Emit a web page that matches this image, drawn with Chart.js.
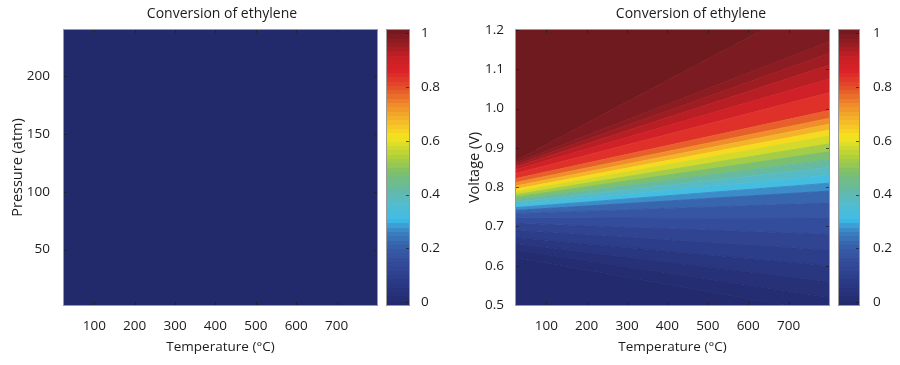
<!DOCTYPE html>
<html>
<head>
<meta charset="utf-8">
<script src="https://cdn.jsdelivr.net/npm/chart.js@4.4.1/dist/chart.umd.min.js"></script>
<style>
  html, body { margin: 0; padding: 0; background: #fff; overflow: hidden; }
  #wrap { position: relative; width: 900px; height: 365px; overflow: hidden; }
  #wrap > div { position: absolute; top: 0; height: 365px; }
</style>
</head>
<body>
<div id="wrap">
  <div style="left:0"><canvas id="leftMap" width="444" height="365"></canvas></div>
  <div style="left:380px"><canvas id="leftBar" width="70" height="365"></canvas></div>
  <div style="left:450px"><canvas id="rightMap" width="482" height="365"></canvas></div>
  <div style="left:832px"><canvas id="rightBar" width="68" height="365"></canvas></div>
</div>
<script>
// ---- data ----
const tempTicks = [100, 200, 300, 400, 500, 600, 700];
const pressureTicks = [50, 100, 150, 200];
const voltTicks = [0.5, 0.6, 0.7, 0.8, 0.9, 1.0, 1.1, 1.2];
const cbTicks = [0, 0.2, 0.4, 0.6, 0.8, 1];

const tempEnds = [25, 800];          // temperature range of both maps
const pressureEnds = [2, 240];       // pressure range of the left map
const voltEnds = [0.5, 1.2];         // voltage range of the right map
const cbEnds = [-0.011, 1.013];      // colour scale limits

// left map: conversion is zero everywhere
const leftConversion = [0, 0];

// right map: contour levels of conversion and the voltage where each
// level crosses T = 25 and T = 800 (the contours are nearly straight)
const levels    = [0.01, 0.025, 0.05, 0.08, 0.11, 0.14, 0.17, 0.20, 0.25, 0.30, 0.35, 0.40, 0.45, 0.50, 0.55, 0.60, 0.65, 0.70, 0.75, 0.80, 0.86, 0.90, 0.93, 0.955, 0.975, 0.99];
const voltAt25  = [0.62, 0.64, 0.655, 0.672, 0.69, 0.708, 0.722, 0.733, 0.741, 0.748, 0.755, 0.762, 0.768, 0.775, 0.781, 0.788, 0.795, 0.803, 0.812, 0.822, 0.835, 0.845, 0.852, 0.857, 0.862, 0.867];
const voltAt800 = [0.48, 0.52, 0.56, 0.60, 0.64, 0.68, 0.72, 0.76, 0.79, 0.81, 0.83, 0.85, 0.87, 0.89, 0.91, 0.93, 0.945, 0.96, 0.975, 0.995, 1.04, 1.075, 1.11, 1.14, 1.17, 1.29];

// ---- colour map (printed jet) ----
const stops = [
  [0.00, '#222a6c'], [0.08, '#2a3985'], [0.16, '#344d9c'], [0.22, '#3862ac'],
  [0.27, '#3a86c4'], [0.31, '#3fbde8'], [0.36, '#52bcd0'], [0.42, '#64b9a4'],
  [0.48, '#7dbf6c'], [0.54, '#b0d03c'], [0.61, '#f6e51c'], [0.67, '#f4b82a'],
  [0.73, '#ee8a2a'], [0.79, '#e4502a'], [0.85, '#dc2228'], [0.90, '#c62026'],
  [0.94, '#a01d22'], [0.965, '#8a1c22'], [0.985, '#7a1b21'], [1.00, '#6a191d']
];
function hexRgb(h) {
  return [1, 3, 5].map(i => parseInt(h.substr(i, 2), 16));
}
function cmap(v) {
  v = Math.max(0, Math.min(1, v));
  for (let i = 1; i < stops.length; i++) {
    if (v <= stops[i][0]) {
      const a = stops[i - 1], b = stops[i];
      const t = (v - a[0]) / (b[0] - a[0]);
      const ca = hexRgb(a[1]), cb = hexRgb(b[1]);
      const c = ca.map((x, k) => Math.round(x + (cb[k] - x) * t));
      return 'rgb(' + c.join(',') + ')';
    }
  }
  return stops[stops.length - 1][1];
}

const textColor = '#1c1c1c';
Chart.defaults.font.family = "'Open Sans', sans-serif";
Chart.defaults.font.size = 13.5;
Chart.defaults.color = textColor;

// frame and small inward tick marks, like matlab axes
const framePlugin = {
  id: 'frame',
  afterDraw(chart) {
    const { ctx, chartArea: a, scales } = chart;
    ctx.save();
    ctx.strokeStyle = 'rgba(30,30,30,0.7)';
    ctx.lineWidth = 1;
    const len = 3;
    if (scales.x && scales.x.options.display !== false) {
      scales.x.ticks.forEach(t => {
        const px = Math.round(scales.x.getPixelForValue(t.value)) + 0.5;
        ctx.beginPath();
        ctx.moveTo(px, a.bottom); ctx.lineTo(px, a.bottom - len);
        ctx.moveTo(px, a.top); ctx.lineTo(px, a.top + len);
        ctx.stroke();
      });
    }
    const ys = scales.y;
    ys.ticks.forEach(t => {
      const py = Math.round(ys.getPixelForValue(t.value)) + 0.5;
      ctx.beginPath();
      if (ys.position === 'left') { ctx.moveTo(a.left, py); ctx.lineTo(a.left + len, py); }
      ctx.moveTo(a.right, py); ctx.lineTo(a.right - len, py);
      ctx.stroke();
    });
    ctx.strokeStyle = '#9a9a9a';
    ctx.strokeRect(Math.round(a.left) - 0.5, Math.round(a.top) - 0.5,
      Math.round(a.right - a.left) + 1, Math.round(a.bottom - a.top) + 1);
    ctx.restore();
  }
};

function band(points, fill, color) {
  return {
    data: points, fill: fill, showLine: true, pointRadius: 0,
    backgroundColor: color, borderColor: color, borderWidth: 1, clip: 0
  };
}

function mapChart(id, datasets, yEnds, yTicks, yFmt, yTitle, yWidth, yPad, yTitlePad, rightPad) {
  return new Chart(document.getElementById(id), {
    type: 'scatter',
    data: { datasets: datasets },
    options: {
      responsive: false,
      animation: false,
      events: [],
      layout: { padding: 0 },
      plugins: {
        legend: { display: false },
        tooltip: { enabled: false },
        title: {
          display: true,
          text: 'Conversion of ethylene',
          color: textColor,
          font: { size: 14, weight: 'normal' },
          padding: { top: 6, bottom: 7.2 }
        }
      },
      scales: {
        x: {
          type: 'linear', min: tempEnds[0], max: tempEnds[1],
          afterBuildTicks: s => { s.ticks = tempTicks.map(v => ({ value: v })); },
          afterFit: s => { s.height = 60; },
          grid: { display: false }, border: { display: false },
          ticks: { padding: 5, maxRotation: 0 },
          title: { display: true, text: 'Temperature (°C)', font: { size: 13.5 }, padding: { top: 0, bottom: 10 } }
        },
        y: {
          type: 'linear', min: yEnds[0], max: yEnds[1],
          afterBuildTicks: s => { s.ticks = yTicks.map(v => ({ value: v })); },
          afterFit: s => { s.width = yWidth; },
          grid: { display: false }, border: { display: false },
          ticks: { padding: yPad, callback: yFmt },
          title: { display: true, text: yTitle, font: { size: 14.5 }, padding: { top: yTitlePad, bottom: 0 } }
        },
        pad: {
          type: 'linear', axis: 'y', position: 'right',
          afterFit: s => { s.width = rightPad; },
          grid: { display: false }, border: { display: false },
          ticks: { display: false }
        }
      }
    },
    plugins: [framePlugin]
  });
}

function colorBar(id, tickPad) {
  return new Chart(document.getElementById(id), {
    type: 'bar',
    data: {
      labels: ['c'],
      datasets: [{
        data: [[cbEnds[0], cbEnds[1]]],
        barPercentage: 1, categoryPercentage: 1, borderWidth: 0,
        backgroundColor: ctx => {
          const { chart } = ctx;
          if (!chart.chartArea) return cmap(0);
          const y = chart.scales.y;
          const g = chart.ctx.createLinearGradient(0, y.getPixelForValue(cbEnds[0]), 0, y.getPixelForValue(cbEnds[1]));
          const n = 64;
          for (let k = 0; k < n; k++) {
            const c = cmap((k + 0.5) / n);
            g.addColorStop(k / n, c);
            g.addColorStop((k + 1) / n - 0.0001, c);
          }
          return g;
        }
      }]
    },
    options: {
      responsive: false,
      animation: false,
      events: [],
      layout: { padding: { left: 7, top: 30, bottom: 60, right: 0 } },
      plugins: { legend: { display: false }, tooltip: { enabled: false } },
      scales: {
        x: { display: false },
        y: {
          position: 'right', min: cbEnds[0], max: cbEnds[1],
          afterBuildTicks: s => { s.ticks = cbTicks.map(v => ({ value: v })); },
          afterFit: s => { s.width = 41; },
          grid: { display: false }, border: { display: false },
          ticks: { padding: tickPad, callback: v => String(v) }
        }
      }
    },
    plugins: [framePlugin]
  });
}

// left map: one uniform band of zero conversion
const leftSets = [
  band([{ x: tempEnds[0], y: pressureEnds[1] }, { x: tempEnds[1], y: pressureEnds[1] }], 'start',
       cmap((leftConversion[0] + leftConversion[1]) / 2))
];

// right map: filled bands between neighbouring contour lines
const rightSets = levels.map((lv, i) => {
  const lo = i === 0 ? 0 : levels[i - 1];
  return band([{ x: tempEnds[0], y: voltAt25[i] }, { x: tempEnds[1], y: voltAt800[i] }],
              i === 0 ? 'start' : '-1', cmap((lo + lv) / 2));
});
rightSets.push(band([{ x: tempEnds[0], y: 2 }, { x: tempEnds[1], y: 2 }], '-1',
                    cmap((levels[levels.length - 1] + 1) / 2)));

mapChart('leftMap', leftSets, pressureEnds, pressureTicks, v => String(v),
         'Pressure (atm)', 64, 6, 9, 67);
mapChart('rightMap', rightSets, voltEnds, voltTicks, v => v.toFixed(1),
         'Voltage (V)', 66, 4, 16, 103);
colorBar('leftBar', 4);
colorBar('rightBar', 6);
</script>
</body>
</html>
